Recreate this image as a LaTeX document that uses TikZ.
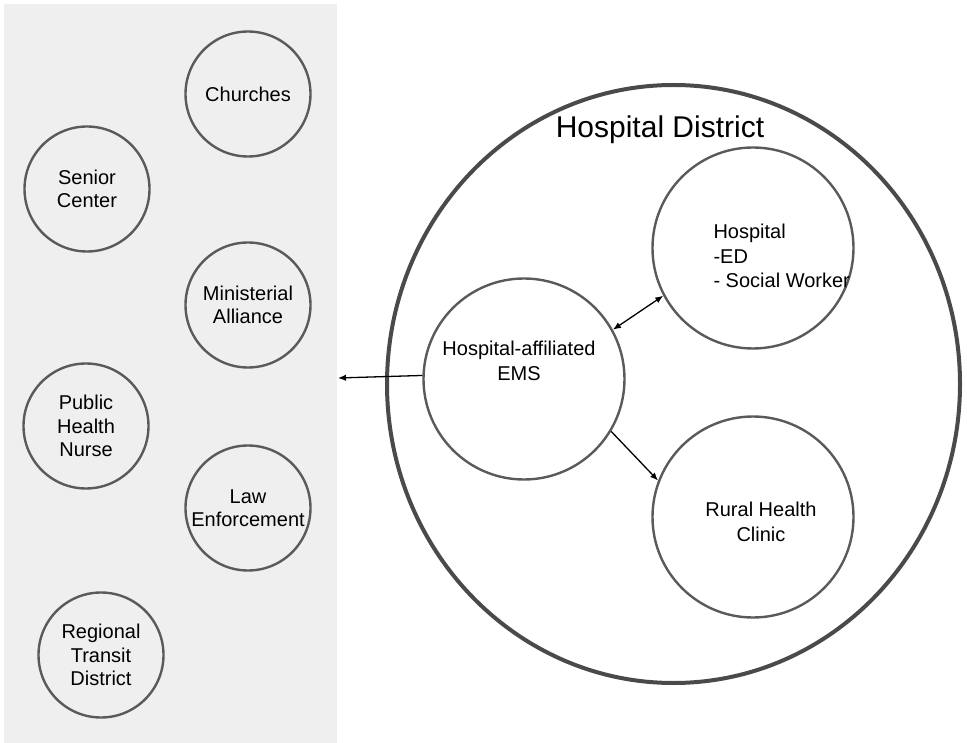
\documentclass[tikz,border=0pt]{standalone}
\usepackage{fontspec}
\setmainfont{Liberation Sans}
\usetikzlibrary{arrows.meta,shapes.geometric}
\definecolor{panelgray}{HTML}{EFEFEF}
\definecolor{ringgray}{HTML}{5A5A5A}
\definecolor{districtgray}{HTML}{4A4A4A}

\begin{document}
\begin{tikzpicture}[x=1pt, y=-1pt,
    partner/.style={circle, draw=ringgray, line width=2.4pt, minimum size=125pt,
      inner sep=0pt, align=center, font=\fontsize{20}{23.5}\selectfont},
    unit/.style={circle, draw=ringgray, line width=2.4pt, minimum size=201pt, inner sep=0pt},
    caption/.style={align=center, font=\fontsize{20}{24.5}\selectfont},
    link/.style={line width=1.3pt, >={Latex[length=8pt,width=6.5pt]}}]
  \useasboundingbox (0,0) rectangle (967,743);

  % community partners
  \fill[panelgray] (4,4) rectangle (337,743);
  \node[partner] (churches)    at (248,94)  {Churches};
  \node[partner] (senior)      at (87,189)  {Senior\\Center};
  \node[partner] (ministerial) at (248,305) {Ministerial\\Alliance};
  \node[partner] (nurse)       at (86,426)  {Public\\Health\\Nurse};
  \node[partner] (law)         at (248,508) {Law\\Enforcement};
  \node[partner] (transit)     at (101,655) {Regional\\Transit\\District};

  % hospital district
  \node[ellipse, draw=districtgray, line width=4pt, minimum width=573pt,
    minimum height=598pt, inner sep=0pt] (district) at (673.5,384) {};
  \node[anchor=base, font=\fontsize{30}{34}\selectfont] (districttitle) at (660,138) {Hospital District};

  \node[unit] (hosp)  at (753,248) {};
  \node[unit] (ems)   at (524,379) {};
  \node[unit] (rural) at (753,517) {};
  \node[caption, align=left, anchor=west] (hosplabel) at (710,256)
    {Hospital\\-ED\\- Social Worker};
  \node[caption] (emslabel)   at (519,361) {Hospital-affiliated\\EMS};
  \node[caption] (rurallabel) at (761,522) {Rural Health\\Clinic};

  \coordinate (panel) at (338,378);
  \draw[link, ->]  (ems.178) -- (panel);
  \draw[link, <->] (ems.29)  -- (hosp.208);
  \draw[link, ->]  (ems.-31) -- (rural.159);
\end{tikzpicture}
\end{document}
